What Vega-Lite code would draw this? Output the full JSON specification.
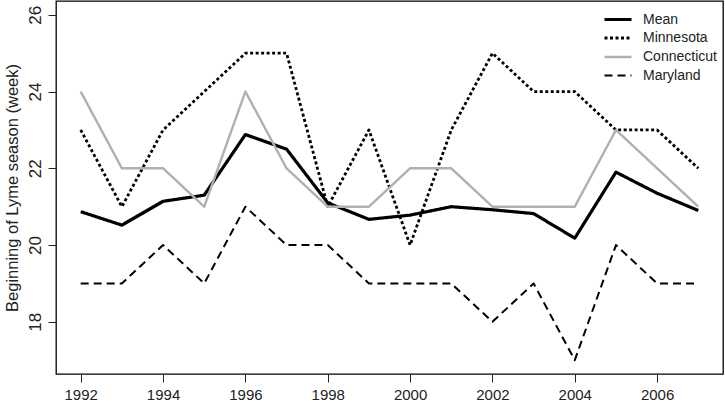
{
  "$schema": "https://vega.github.io/schema/vega-lite/v6.json",
  "width": 667,
  "height": 373,
  "autosize": {"type": "none"},
  "padding": {"left": 56, "top": 1, "right": 2, "bottom": 27},
  "background": "white",
  "config": {
    "view": {"stroke": "black", "strokeWidth": 1.3},
    "font": "Liberation Sans",
    "axis": {"domain": false, "grid": false, "tickColor": "#222", "tickWidth": 1, "tickSize": 8, "labelFontSize": 15, "labelColor": "#222", "titleFontSize": 15, "titleFontWeight": "normal", "titleColor": "#222"}
  },
  "data": {"values": [
    {"year": 1992, "series": "Mean", "week": 20.87},
    {"year": 1993, "series": "Mean", "week": 20.52},
    {"year": 1994, "series": "Mean", "week": 21.14},
    {"year": 1995, "series": "Mean", "week": 21.3},
    {"year": 1996, "series": "Mean", "week": 22.88},
    {"year": 1997, "series": "Mean", "week": 22.5},
    {"year": 1998, "series": "Mean", "week": 21.1},
    {"year": 1999, "series": "Mean", "week": 20.67},
    {"year": 2000, "series": "Mean", "week": 20.78},
    {"year": 2001, "series": "Mean", "week": 21.0},
    {"year": 2002, "series": "Mean", "week": 20.92},
    {"year": 2003, "series": "Mean", "week": 20.82},
    {"year": 2004, "series": "Mean", "week": 20.18},
    {"year": 2005, "series": "Mean", "week": 21.9},
    {"year": 2006, "series": "Mean", "week": 21.35},
    {"year": 2007, "series": "Mean", "week": 20.9},
    {"year": 1992, "series": "Minnesota", "week": 23},
    {"year": 1993, "series": "Minnesota", "week": 21},
    {"year": 1994, "series": "Minnesota", "week": 23},
    {"year": 1995, "series": "Minnesota", "week": 24},
    {"year": 1996, "series": "Minnesota", "week": 25},
    {"year": 1997, "series": "Minnesota", "week": 25},
    {"year": 1998, "series": "Minnesota", "week": 21},
    {"year": 1999, "series": "Minnesota", "week": 23},
    {"year": 2000, "series": "Minnesota", "week": 20},
    {"year": 2001, "series": "Minnesota", "week": 23},
    {"year": 2002, "series": "Minnesota", "week": 25},
    {"year": 2003, "series": "Minnesota", "week": 24},
    {"year": 2004, "series": "Minnesota", "week": 24},
    {"year": 2005, "series": "Minnesota", "week": 23},
    {"year": 2006, "series": "Minnesota", "week": 23},
    {"year": 2007, "series": "Minnesota", "week": 22},
    {"year": 1992, "series": "Connecticut", "week": 24},
    {"year": 1993, "series": "Connecticut", "week": 22},
    {"year": 1994, "series": "Connecticut", "week": 22},
    {"year": 1995, "series": "Connecticut", "week": 21},
    {"year": 1996, "series": "Connecticut", "week": 24},
    {"year": 1997, "series": "Connecticut", "week": 22},
    {"year": 1998, "series": "Connecticut", "week": 21},
    {"year": 1999, "series": "Connecticut", "week": 21},
    {"year": 2000, "series": "Connecticut", "week": 22},
    {"year": 2001, "series": "Connecticut", "week": 22},
    {"year": 2002, "series": "Connecticut", "week": 21},
    {"year": 2003, "series": "Connecticut", "week": 21},
    {"year": 2004, "series": "Connecticut", "week": 21},
    {"year": 2005, "series": "Connecticut", "week": 23},
    {"year": 2006, "series": "Connecticut", "week": 22},
    {"year": 2007, "series": "Connecticut", "week": 21},
    {"year": 1992, "series": "Maryland", "week": 19},
    {"year": 1993, "series": "Maryland", "week": 19},
    {"year": 1994, "series": "Maryland", "week": 20},
    {"year": 1995, "series": "Maryland", "week": 19},
    {"year": 1996, "series": "Maryland", "week": 21},
    {"year": 1997, "series": "Maryland", "week": 20},
    {"year": 1998, "series": "Maryland", "week": 20},
    {"year": 1999, "series": "Maryland", "week": 19},
    {"year": 2000, "series": "Maryland", "week": 19},
    {"year": 2001, "series": "Maryland", "week": 19},
    {"year": 2002, "series": "Maryland", "week": 18},
    {"year": 2003, "series": "Maryland", "week": 19},
    {"year": 2004, "series": "Maryland", "week": 17},
    {"year": 2005, "series": "Maryland", "week": 20},
    {"year": 2006, "series": "Maryland", "week": 19},
    {"year": 2007, "series": "Maryland", "week": 19}
  ]},
  "mark": {"type": "line", "strokeCap": "butt", "strokeJoin": "round"},
  "encoding": {
    "x": {"field": "year", "type": "quantitative",
      "scale": {"domain": [1991.4, 2007.6], "nice": false, "zero": false},
      "axis": {"values": [1992, 1994, 1996, 1998, 2000, 2002, 2004, 2006], "format": "d", "title": null, "labelPadding": 5}},
    "y": {"field": "week", "type": "quantitative",
      "scale": {"domain": [16.64, 26.36], "nice": false, "zero": false},
      "axis": {"values": [18, 20, 22, 24, 26], "title": "Beginning of Lyme season (week)", "labelAngle": -90, "labelAlign": "center", "labelBaseline": "bottom", "labelPadding": 4, "labelFontSize": 17, "titleFontSize": 16.5, "titlePadding": 6}},
    "detail": {"field": "series"},
    "color": {"field": "series", "type": "nominal",
      "scale": {"domain": ["Mean", "Minnesota", "Connecticut", "Maryland"], "range": ["black", "black", "#b0b0b0", "black"]},
      "legend": {"title": null, "orient": "none", "legendX": 550, "legendY": 6.5, "labelFontSize": 14, "labelColor": "#222", "symbolType": "M-1.35,0H1.35", "symbolSize": 400, "symbolStrokeWidth": 2.5, "rowPadding": -3.8, "labelOffset": 13}},
    "strokeDash": {"field": "series", "type": "nominal",
      "scale": {"domain": ["Mean", "Minnesota", "Connecticut", "Maryland"], "range": [[1, 0], [3, 2.5], [1, 0], [8, 5]]},
      "legend": null},
    "strokeWidth": {"field": "series", "type": "nominal",
      "scale": {"domain": ["Mean", "Minnesota", "Connecticut", "Maryland"], "range": [3.2, 2, 2, 2]},
      "legend": null}
  }
}
